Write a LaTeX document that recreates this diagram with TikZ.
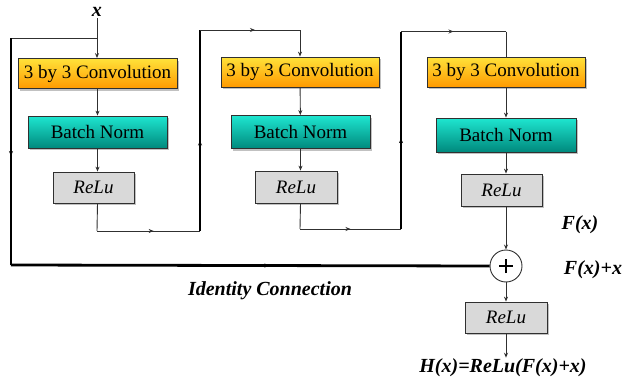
\documentclass[tikz,border=0pt]{standalone}
\usepackage{fontspec}
\setmainfont{Liberation Serif}
\usetikzlibrary{arrows.meta,shadows,decorations.markings}
\definecolor{convtop}{HTML}{FFE23A}
\definecolor{convbot}{HTML}{FF9A00}
\definecolor{bntop}{HTML}{1EE6D0}
\definecolor{bnbot}{HTML}{00897D}
\definecolor{relufill}{HTML}{D9D9D9}
\definecolor{ln}{HTML}{303030}
\tikzset{
  boxbase/.style={draw=ln, line width=0.8pt, inner sep=0pt,
    drop shadow={shadow xshift=2pt, shadow yshift=-2pt, opacity=0.35, fill=black!70}},
  convbox/.style={boxbase, top color=convtop, bottom color=convbot,
    font=\fontsize{19}{21}\selectfont},
  bnbox/.style={boxbase, top color=bntop, bottom color=bnbot,
    font=\fontsize{19}{21}\selectfont},
  relubox/.style={boxbase, fill=relufill,
    font=\fontsize{19}{21}\selectfont\itshape},
  thin/.style={draw=ln, line width=0.9pt},
  thick/.style={draw=black, line width=2.8pt},
  arr/.style={thin, -{Stealth[length=5pt,width=4pt]}},
  midarr/.style={postaction={decorate}, decoration={markings,
    mark=at position #1 with {\arrow{Stealth[length=5pt,width=4pt]}}}},
  lbl/.style={font=\fontsize{20}{22}\selectfont\bfseries\itshape, inner sep=1pt},
  plusnode/.style={draw=ln, line width=0.9pt, circle, minimum size=32pt, inner sep=0pt,
    fill=white, path picture={
      \draw[black, line width=2pt] ([xshift=-7pt]path picture bounding box.center) -- ([xshift=7pt]path picture bounding box.center);
      \draw[black, line width=2pt] ([yshift=-7pt]path picture bounding box.center) -- ([yshift=7pt]path picture bounding box.center);}},
}
\begin{document}
\begin{tikzpicture}[x=1pt,y=-1pt]
\useasboundingbox (0,0) rectangle (625,383);

% column 1
\node[convbox, minimum width=159pt, minimum height=30pt] (c1) at (97.5,73.5) {3 by 3 Convolution};
\node[bnbox, minimum width=139pt, minimum height=32pt] (b1) at (97.5,132) {Batch Norm};
\node[relubox, minimum width=81pt, minimum height=31pt] (r1) at (93.5,187.5) {ReLu};
% column 2
\node[convbox, minimum width=158pt, minimum height=30pt] (c2) at (300,72) {3 by 3 Convolution};
\node[bnbox, minimum width=139pt, minimum height=33pt] (b2) at (300.5,132) {Batch Norm};
\node[relubox, minimum width=82pt, minimum height=32pt] (r2) at (296,187) {ReLu};
% column 3
\node[convbox, minimum width=158pt, minimum height=30pt] (c3) at (506,72) {3 by 3 Convolution};
\node[bnbox, minimum width=140pt, minimum height=34pt] (b3) at (506,135) {Batch Norm};
\node[relubox, minimum width=81pt, minimum height=32pt] (r3) at (501.5,190) {ReLu};
\node[plusnode] (plus) at (506,266) {};
\node[relubox, minimum width=82pt, minimum height=31pt] (r4) at (506,317.5) {ReLu};

% labels
\node[lbl] (xl) at (97,12) {x};
\node[lbl] (fx) at (580,225) {F(x)};
\node[lbl] (fxx) at (593,270) {F(x)+x};
\node[lbl] (idc) at (270,291) {Identity Connection};
\node[lbl] (hx) at (503,368) {H(x)=ReLu(F(x)+x)};

% coordinates
\coordinate (s1) at (97,38);
\coordinate (l1) at (11,38);
\coordinate (l2) at (11,265);
\coordinate (p1) at (97,231);
\coordinate (p2) at (200,231);
\coordinate (p3) at (200,30);
\coordinate (p4) at (300,30);
\coordinate (q1) at (300,229);
\coordinate (q2) at (401,229);
\coordinate (q3) at (401,31.5);
\coordinate (q4) at (506,31.5);

% column 1 flow
\draw[arr] (xl.south) -- (c1.north -| xl.south);
\draw[thin] (s1) -- (l1);
\draw[arr] (c1) -- (b1);
\draw[arr] (b1.south) -- (b1.south |- r1.north);
\draw[thin] (b1.south |- r1.south) -- (p1);
\draw[thin, midarr=0.55] (p1) -- (p2);
\draw[thick, midarr=0.45] (p2) -- (p3);
\draw[thin, midarr=0.55] (p3) -- (p4);
\draw[arr] (p4) -- (c2.north);
% column 2 flow
\draw[arr] (c2) -- (b2);
\draw[arr] (b2.south) -- (b2.south |- r2.north);
\draw[thin] (b2.south |- r2.south) -- (q1);
\draw[thin, midarr=0.5] (q1) -- (q2);
\draw[thick, midarr=0.46] (q2) -- (q3);
\draw[thin, midarr=0.5] (q3) -- (q4);
\draw[thin] (q4) -- (c3.north);
% column 3 flow
\draw[arr] (c3) -- (b3);
\draw[arr] (b3.south) -- (b3.south |- r3.north);
\draw[arr] (b3.south |- r3.south) -- (plus.north);
\draw[arr] (plus.south) -- (r4.north);
\draw[arr] (r4.south) -- (r4.south |- hx.north);
% identity
\draw[thick, midarr=0.52] (l1) -- (l2);
\draw[thick, line cap=butt, midarr=0.54] (l2) -- (plus.west);
\end{tikzpicture}
\end{document}
